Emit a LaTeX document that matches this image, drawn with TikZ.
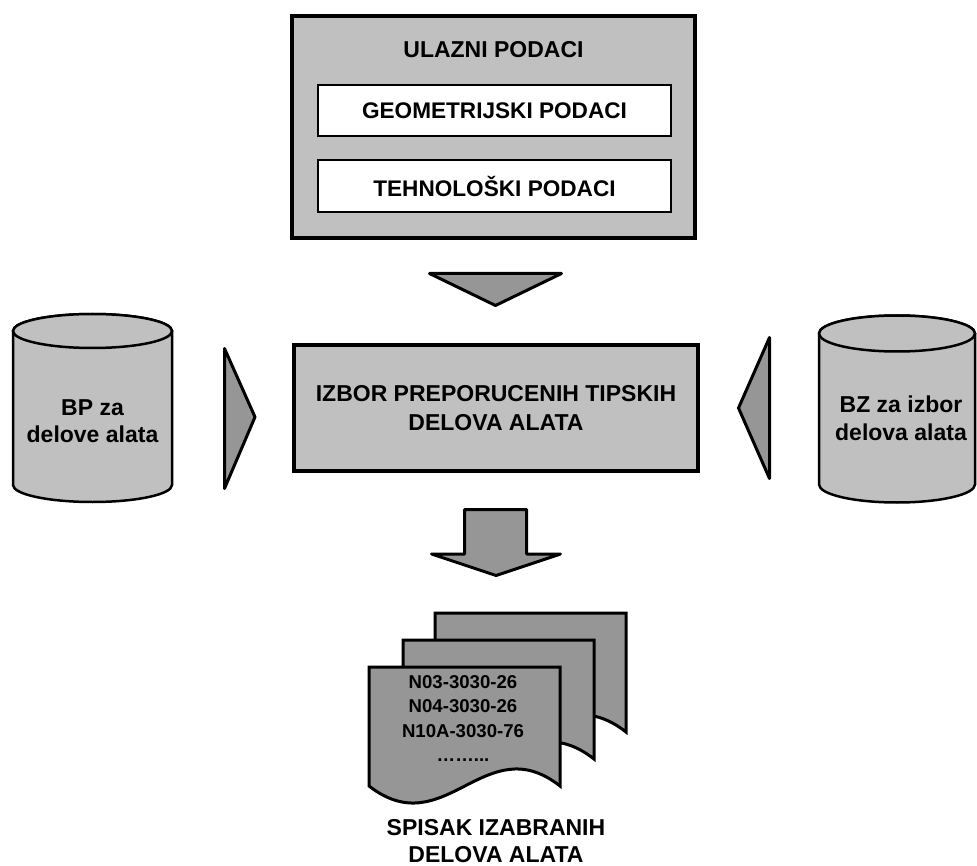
\documentclass[tikz,border=0pt]{standalone}
\usepackage{fontspec}
\setmainfont{Liberation Sans}
\definecolor{boxgray}{HTML}{C0C0C0}
\definecolor{arrgray}{HTML}{969696}
\tikzset{
  docpage/.pic={\path[docstyle] (0,0) -- (191,0) -- (191,119) .. controls (116,60) and (76,178) .. (0,119) -- cycle;}
}
\begin{document}
\begin{tikzpicture}[x=1pt,y=-1pt,
  bigbox/.style={draw, line width=4pt, fill=boxgray, inner sep=0pt},
  innerbox/.style={draw, line width=2.5pt, fill=white, minimum width=353, minimum height=51, inner sep=0pt, font=\fontsize{22.6}{27}\selectfont\bfseries},
  lbl/.style={font=\fontsize{23}{28.5}\selectfont\bfseries, align=center, inner sep=0pt},
  cylstyle/.style={draw, line width=2.5pt, fill=boxgray},
  arrstyle/.style={draw, line width=3pt, fill=arrgray, line join=round},
  docstyle/.style={draw, line width=3pt, fill=arrgray, line join=miter},
  doctext/.style={font=\fontsize{18.6}{24.3}\selectfont\bfseries, align=center, inner sep=0pt}
]
\useasboundingbox (0,0) rectangle (977,866);

% input data box
\node[bigbox, minimum width=403, minimum height=222] (input) at (493.5,127) {};
\node[lbl] (inputtitle) at (493.5,50) {ULAZNI PODACI};
\node[innerbox] (geo) at (494.5,110.5) {GEOMETRIJSKI PODACI};
\node[innerbox, minimum height=52] (tech) at (494.5,186) {TEHNOLOŠKI PODACI};

% down triangle
\draw[arrstyle] (429.5,273.5) -- (561.5,273.5) -- (495.5,305.5) -- cycle;

% selection box
\node[bigbox, lbl, minimum width=404, minimum height=126] (select) at (496,408) {IZBOR PREPORUCENIH TIPSKIH\\DELOVA ALATA};

% left cylinder
\draw[cylstyle] (13,331) -- (13,485) arc[start angle=180, end angle=0, x radius=79.5, y radius=17] -- (172,331) arc[start angle=0, end angle=-180, x radius=79.5, y radius=17] -- cycle;
\draw[cylstyle] (92.5,331) ellipse[x radius=79.5, y radius=17];
\node[lbl, font=\fontsize{23}{27}\selectfont\bfseries] (bp) at (92.5,421) {BP za\\delove alata};

% right cylinder
\draw[cylstyle] (819,333.5) -- (819,484.5) arc[start angle=180, end angle=0, x radius=78, y radius=18] -- (975,333.5) arc[start angle=0, end angle=-180, x radius=78, y radius=18] -- cycle;
\draw[cylstyle] (897,333.5) ellipse[x radius=78, y radius=18];
\node[lbl, font=\fontsize{23}{28}\selectfont\bfseries] (bz) at (901,418) {BZ za izbor\\delova alata};

% side triangles
\draw[arrstyle] (224.5,348.5) -- (255,417) -- (224.5,488.5) -- cycle;
\draw[arrstyle] (769.5,337.5) -- (738.5,408) -- (769.5,478.5) -- cycle;

% block arrow down
\draw[arrstyle] (464.5,509.5) -- (526.5,509.5) -- (526.5,554) -- (560.5,554) -- (496,575.5) -- (431.5,554) -- (464.5,554) -- cycle;

% documents
\pic (backdoc) at (435,613) {docpage};
\pic (middoc) at (403,640) {docpage};
\pic (frontdoc) at (369,667) {docpage};
\node[doctext] (list) at (463,718.5) {N03-3030-26\\N04-3030-26\\N10A-3030-76\\……...};

% output label
\node[lbl, font=\fontsize{23}{27}\selectfont\bfseries] (out) at (496,841.5) {SPISAK IZABRANIH\\DELOVA ALATA};
\end{tikzpicture}
\end{document}
